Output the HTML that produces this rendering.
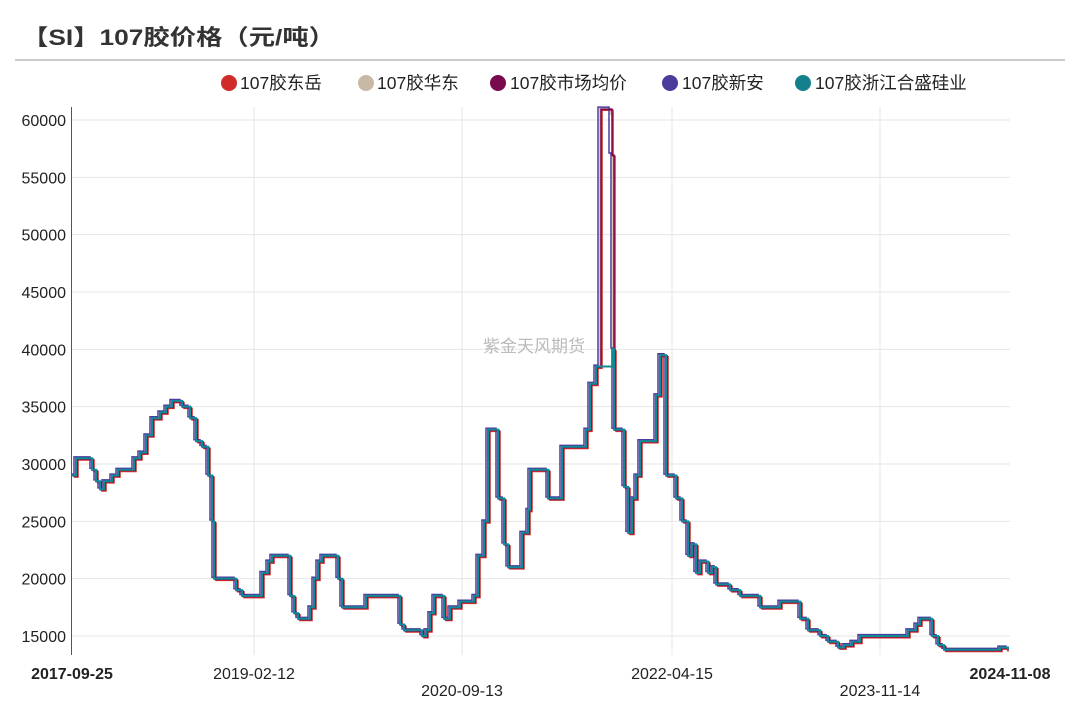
<!DOCTYPE html>
<html><head><meta charset="utf-8"><style>
body{margin:0;background:#fff;width:1080px;height:701px;overflow:hidden;font-family:"Liberation Sans","Noto Sans CJK SC",sans-serif;}
</style></head><body>
<svg id="s" width="1080" height="701" xmlns="http://www.w3.org/2000/svg" font-family="Liberation Sans, Noto Sans CJK SC, sans-serif">
<text x="22" y="45" font-size="22" font-weight="bold" fill="#333" textLength="313" lengthAdjust="spacingAndGlyphs">【SI】107胶价格（元/吨）</text>
<line x1="15" y1="60" x2="1065" y2="60" stroke="#999" stroke-width="1"/>
<g font-size="17.5" fill="#222">
<circle cx="229" cy="83" r="8" fill="#d12a2a"/><text x="240" y="89">107胶东岳</text>
<circle cx="366" cy="83" r="8" fill="#c8b9a6"/><text x="377" y="89">107胶华东</text>
<circle cx="498" cy="83" r="8" fill="#7a0a4e"/><text x="510" y="89">107胶市场均价</text>
<circle cx="670" cy="83" r="8" fill="#4b3b9b"/><text x="682" y="89">107胶新安</text>
<circle cx="803" cy="83" r="8" fill="#14808c"/><text x="815" y="89">107胶浙江合盛硅业</text>
</g>
<g id="grid"></g>
<text x="483" y="352" font-size="17" fill="#bbb">紫金天风期货</text>
<g id="lines" fill="none" stroke-width="1.5"></g>
<line x1="71.5" y1="107" x2="71.5" y2="655" stroke="#555"/>
<g font-size="16" fill="#222">
<text x="72" y="679" text-anchor="middle" font-weight="bold">2017-09-25</text>
<text x="254" y="679" text-anchor="middle">2019-02-12</text>
<text x="462" y="696" text-anchor="middle">2020-09-13</text>
<text x="672" y="679" text-anchor="middle">2022-04-15</text>
<text x="880" y="696" text-anchor="middle">2023-11-14</text>
<text x="1010" y="679" text-anchor="middle" font-weight="bold">2024-11-08</text>
</g>
</svg>
<script>
const Y=p=>636-(p-15000)*516/45000;
let g='';
for(let p=15000;p<=60000;p+=5000){const y=Y(p);g+=`<line x1="72" x2="1010" y1="${y}" y2="${y}" stroke="#e6e6e6"/><text x="66" y="${y+6}" font-size="16" text-anchor="end" fill="#222">${p}</text>`;}
[254,462,672,880].forEach(x=>g+=`<line x1="${x}" x2="${x}" y1="107" y2="655" stroke="#e6e6e6"/>`);
document.getElementById('grid').innerHTML=g;
const d=[[72,29000],[76,30500],[88,30500],[92,29500],[96,28500],[100,27800],[104,28500],[112,29000],[118,29500],[128,29500],[134,30500],[140,31000],[146,32500],[152,34000],[160,34500],[166,35000],[172,35500],[182,35000],[190,34000],[196,32000],[202,31500],[208,29000],[212,25000],[214,20000],[230,20000],[236,19000],[242,18500],[256,18500],[262,20500],[268,21500],[272,22000],[288,22000],[290,18500],[294,17000],[298,16500],[306,16500],[310,17500],[314,20000],[318,21500],[322,22000],[334,22000],[338,20000],[342,17500],[362,17500],[366,18500],[398,18500],[400,16000],[404,15500],[418,15500],[422,15000],[426,15500],[430,17000],[434,18500],[440,18500],[444,16500],[450,17500],[460,18000],[466,18000],[474,18500],[478,22000],[484,25000],[488,33000],[496,33000],[498,27000],[504,23000],[508,21000],[520,21000],[522,24000],[528,26000],[530,29500],[546,29500],[548,27000],[560,27000],[562,31500],[580,31500],[586,33000],[590,37000],[596,38500],[600,61000],[606,61000],[611,57000],[613,40000],[614,33000],[620,33000],[624,28000],[628,24000],[632,27000],[636,29000],[640,32000],[652,32000],[656,36000],[660,39500],[664,39500],[666,29000],[670,29000],[676,27000],[682,25000],[688,22000],[692,23000],[696,20500],[700,21500],[708,20500],[712,21000],[716,19500],[724,19500],[730,19000],[740,18500],[752,18500],[760,17500],[776,17500],[780,18000],[796,18000],[800,16500],[808,15500],[820,15000],[828,14500],[838,14000],[844,14200],[852,14500],[860,15000],[900,15000],[908,15500],[916,16000],[920,16500],[928,16500],[932,15000],[938,14200],[944,13800],[970,13800],[1000,14000],[1008,13800]];
function path(dx,dp,col,fn,w){let s='';d.forEach((q,i)=>{let x=Math.min(1008,Math.max(72,q[0]+dx));let p=q[1]+dp;if(fn)p=fn(q,p);const y=Y(p);s+=(i?`H${x}V${y}`:`M${x},${y}`);});return `<path d="${s}" stroke="${col}"${w?` stroke-width="${w}"`:''}/>`;}
let L='';
L+=path(0,0,'#c8b9a6',(q,p)=>q[0]>=598&&q[0]<=611?Math.max(p,60500):p);
L+=path(2,-150,'#d12a2a');
L+=path(-2,120,'#4b3b9b');
L+=path(1,-60,'#7a0a4e');
L+=path(0,0,'#108a94',(q,p)=>q[0]>=600&&q[0]<=611?38500:p,2);
document.getElementById('lines').innerHTML=L;
</script>
</body></html>
